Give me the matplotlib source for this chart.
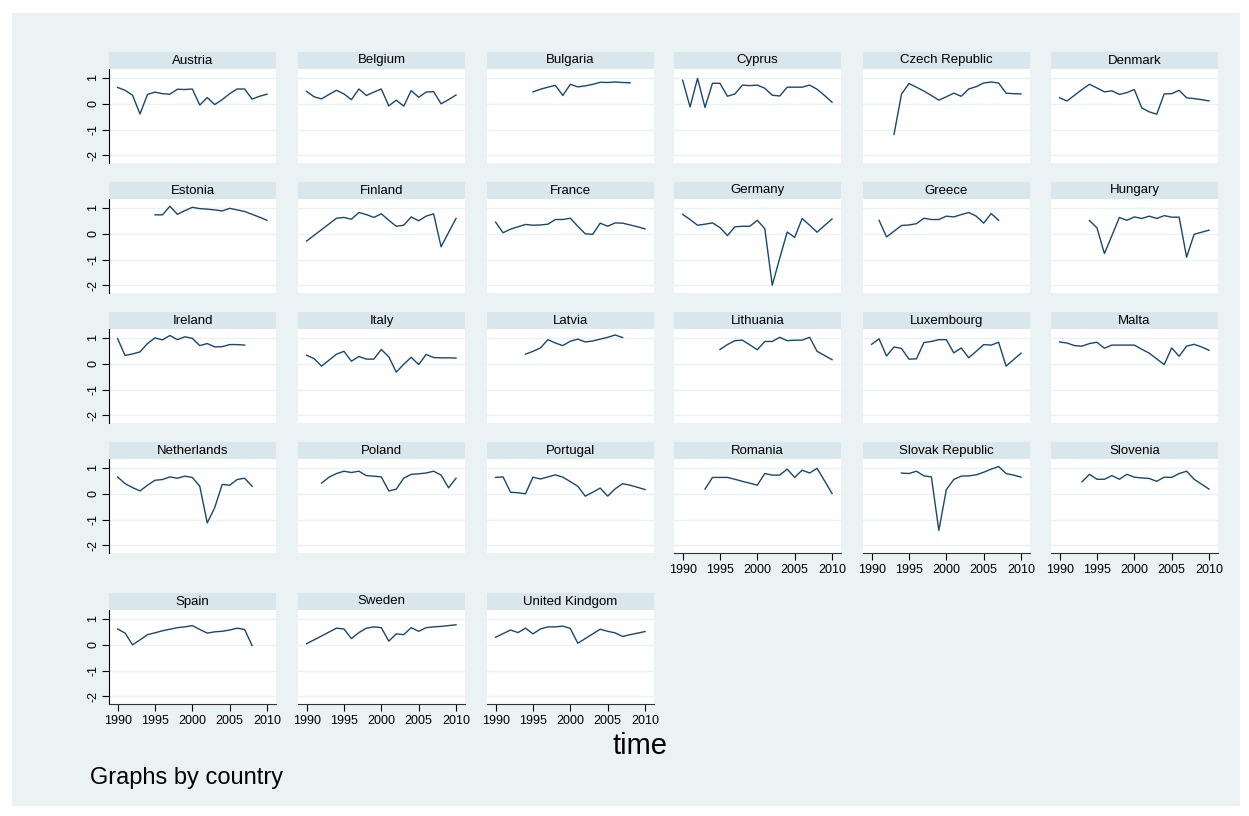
import matplotlib
matplotlib.use("Agg")
import matplotlib.pyplot as plt
from matplotlib.patches import Rectangle

plt.rcParams["font.family"] = ["Liberation Sans", "DejaVu Sans"]

# ---------------------------------------------------------------------------
# Data: one series per country, first_year gives the year of the first value
# ---------------------------------------------------------------------------

countries = [
    "Austria", "Belgium", "Bulgaria", "Cyprus", "Czech Republic", "Denmark",
    "Estonia", "Finland", "France", "Germany", "Greece", "Hungary",
    "Ireland", "Italy", "Latvia", "Lithuania", "Luxembourg", "Malta",
    "Netherlands", "Poland", "Portugal", "Romania", "Slovak Republic", "Slovenia",
    "Spain", "Sweden", "United Kindgom",
]

first_year = [
    1990, 1990, 1995, 1990, 1993, 1990,
    1995, 1990, 1990, 1990, 1991, 1994,
    1990, 1990, 1994, 1995, 1990, 1990,
    1990, 1992, 1990, 1993, 1994, 1993,
    1990, 1990, 1990,
]

austria = [0.62, 0.51, 0.32, -0.40, 0.35, 0.44, 0.38, 0.36, 0.55, 0.54, 0.56,
           -0.06, 0.23, -0.04, 0.15, 0.38, 0.56, 0.56, 0.17, 0.28, 0.36]
belgium = [0.47, 0.26, 0.18, 0.35, 0.51, 0.37, 0.15, 0.56, 0.31, 0.44, 0.56,
           -0.09, 0.13, -0.10, 0.50, 0.24, 0.44, 0.46, -0.01, 0.15, 0.33]
bulgaria = [0.45, 0.55, 0.63, 0.70, 0.31, 0.74, 0.64, 0.68, 0.74, 0.82, 0.81,
            0.83, 0.81, 0.80]
cyprus = [0.90, -0.13, 0.97, -0.15, 0.78, 0.78, 0.28, 0.37, 0.71, 0.69, 0.71,
          0.59, 0.32, 0.29, 0.63, 0.63, 0.63, 0.71, 0.55, 0.31, 0.05]
czech = [-1.19, 0.36, 0.77, 0.63, 0.48, 0.31, 0.13, 0.26, 0.40, 0.28, 0.56,
         0.65, 0.79, 0.83, 0.79, 0.40, 0.38, 0.37]
denmark = [0.22, 0.10, 0.32, 0.54, 0.74, 0.60, 0.45, 0.49, 0.35, 0.42, 0.54,
           -0.17, -0.32, -0.41, 0.37, 0.38, 0.51, 0.22, 0.19, 0.15, 0.10]
estonia = [0.72, 0.72, 1.05, 0.74, 0.88, 1.01, 0.96, 0.94, 0.91, 0.87, 0.97,
           0.91, 0.85, 0.74, 0.63, 0.51]
finland = [-0.29, -0.07, 0.15, 0.37, 0.59, 0.62, 0.55, 0.81, 0.73, 0.62, 0.76,
           0.51, 0.28, 0.32, 0.64, 0.49, 0.67, 0.76, -0.51, 0.04, 0.58]
france = [0.44, 0.03, 0.17, 0.26, 0.35, 0.32, 0.33, 0.36, 0.54, 0.54, 0.59,
          0.28, -0.01, -0.03, 0.40, 0.28, 0.41, 0.40, 0.33, 0.26, 0.18]
germany = [0.74, 0.54, 0.32, 0.36, 0.41, 0.23, -0.08, 0.26, 0.28, 0.28, 0.51,
           0.19, -1.99, -0.95, 0.06, -0.15, 0.58, 0.32, 0.05, 0.31, 0.56]
greece = [0.51, -0.13, 0.09, 0.31, 0.33, 0.38, 0.59, 0.54, 0.54, 0.67, 0.64,
          0.73, 0.81, 0.67, 0.40, 0.77, 0.51]
hungary = [0.50, 0.22, -0.77, -0.08, 0.62, 0.51, 0.64, 0.58, 0.67, 0.58, 0.69,
           0.63, 0.63, -0.91, -0.03, 0.05, 0.13]
ireland = [0.96, 0.31, 0.37, 0.45, 0.77, 0.99, 0.91, 1.08, 0.92, 1.03, 0.97,
           0.69, 0.77, 0.64, 0.65, 0.73, 0.73, 0.71]
italy = [0.32, 0.19, -0.10, 0.13, 0.36, 0.47, 0.09, 0.27, 0.17, 0.17, 0.54,
         0.26, -0.33, -0.03, 0.24, -0.04, 0.35, 0.23, 0.22, 0.22, 0.21]
latvia = [0.36, 0.47, 0.60, 0.92, 0.79, 0.69, 0.86, 0.94, 0.83, 0.87, 0.94,
          1.01, 1.10, 1.00]
lithuania = [0.54, 0.73, 0.88, 0.90, 0.72, 0.53, 0.85, 0.85, 1.01, 0.88, 0.90,
             0.90, 1.01, 0.47, 0.31, 0.15]
luxembourg = [0.74, 0.95, 0.29, 0.64, 0.58, 0.17, 0.18, 0.81, 0.85, 0.92, 0.92,
              0.41, 0.60, 0.22, 0.47, 0.73, 0.71, 0.82, -0.10, 0.15, 0.40]
malta = [0.83, 0.79, 0.69, 0.67, 0.77, 0.82, 0.59, 0.71, 0.71, 0.71, 0.71,
         0.55, 0.40, 0.18, -0.04, 0.60, 0.28, 0.67, 0.74, 0.64, 0.51]
netherlands = [0.64, 0.38, 0.23, 0.10, 0.32, 0.51, 0.54, 0.64, 0.59, 0.67, 0.62,
               0.28, -1.13, -0.54, 0.35, 0.32, 0.54, 0.59, 0.28]
poland = [0.40, 0.63, 0.77, 0.86, 0.81, 0.86, 0.69, 0.67, 0.64, 0.10, 0.17,
          0.59, 0.74, 0.76, 0.79, 0.86, 0.71, 0.22, 0.59]
portugal = [0.62, 0.64, 0.05, 0.03, -0.01, 0.63, 0.56, 0.64, 0.72, 0.63, 0.46,
            0.28, -0.10, 0.05, 0.21, -0.10, 0.18, 0.38, 0.32, 0.24, 0.15]
romania = [0.17, 0.62, 0.62, 0.62, 0.55, 0.47, 0.40, 0.32, 0.77, 0.71, 0.71,
           0.94, 0.62, 0.90, 0.79, 0.97, 0.49, 0.00]
slovakia = [0.79, 0.77, 0.86, 0.68, 0.64, -1.42, 0.15, 0.54, 0.67, 0.68, 0.72,
            0.82, 0.94, 1.04, 0.77, 0.71, 0.63]
slovenia = [0.45, 0.74, 0.55, 0.55, 0.69, 0.55, 0.74, 0.63, 0.60, 0.58, 0.47,
            0.63, 0.62, 0.77, 0.86, 0.55, 0.36, 0.17]
spain = [0.60, 0.44, -0.01, 0.18, 0.38, 0.45, 0.53, 0.59, 0.65, 0.68, 0.73,
         0.58, 0.44, 0.49, 0.51, 0.56, 0.63, 0.58, -0.04]
sweden = [0.03, 0.18, 0.33, 0.48, 0.63, 0.60, 0.23, 0.46, 0.63, 0.68, 0.65,
          0.13, 0.41, 0.38, 0.65, 0.51, 0.65, 0.68, 0.70, 0.73, 0.76]
uk = [0.28, 0.42, 0.56, 0.46, 0.63, 0.41, 0.60, 0.68, 0.68, 0.71, 0.62,
      0.05, 0.23, 0.41, 0.59, 0.51, 0.45, 0.31, 0.38, 0.44, 0.50]

series = [
    austria, belgium, bulgaria, cyprus, czech, denmark,
    estonia, finland, france, germany, greece, hungary,
    ireland, italy, latvia, lithuania, luxembourg, malta,
    netherlands, poland, portugal, romania, slovakia, slovenia,
    spain, sweden, uk,
]

x_ticks = [1990, 1995, 2000, 2005, 2010]
y_ticks = [-2, -1, 0, 1]

# ---------------------------------------------------------------------------
# Layout (pixels) and Stata s2color-like styling
# ---------------------------------------------------------------------------

W, H = 1249, 816
COL_LEFT = [109, 298, 487, 674, 863, 1051]
ROW_TOP = [69, 199, 329, 459, 610]
PANEL_W, PANEL_H, STRIP_H = 167, 94, 17
NCOLS = 6

BG = "#eaf2f3"
STRIP = "#d9e6eb"
LINE = "#1a476f"
GRID = "#eaf2f3"


def fig_box(left, top, width, height):
    return [left / W, 1 - (top + height) / H, width / W, height / H]


fig = plt.figure(figsize=(W / 100, H / 100), dpi=100)
fig.patch.set_facecolor("white")
fig.add_artist(Rectangle((12 / W, 1 - 806 / H), 1228 / W, 793 / H,
                         transform=fig.transFigure, facecolor=BG,
                         edgecolor="none", zorder=0))

n = len(countries)
for i, (name, start, vals) in enumerate(zip(countries, first_year, series)):
    row, col = divmod(i, NCOLS)
    left, top = COL_LEFT[col], ROW_TOP[row]
    bottom_panel = i + NCOLS >= n

    ax = fig.add_axes(fig_box(left, top, PANEL_W, PANEL_H))
    ax.set_facecolor("white")
    for yv in y_ticks:
        ax.axhline(yv, color=GRID, lw=1.0, zorder=1)
    years = list(range(start, start + len(vals)))
    ax.plot(years, vals, color=LINE, lw=1.0, zorder=3)

    ax.set_xlim(1988.85, 2011.2)
    ax.set_ylim(-2.29, 1.33)
    ax.set_xticks(x_ticks)
    ax.set_yticks(y_ticks)
    for side in ("top", "right"):
        ax.spines[side].set_visible(False)
    ax.spines["left"].set_visible(col == 0)
    ax.spines["bottom"].set_visible(bottom_panel)
    ax.spines["left"].set_color("black")
    ax.spines["bottom"].set_color("#333333")

    ax.tick_params(axis="y", direction="out", length=5, width=0.8, pad=2,
                   labelsize=9, left=(col == 0), labelleft=(col == 0))
    ax.tick_params(axis="x", direction="out", length=5, width=0.8, pad=3,
                   labelsize=9, bottom=bottom_panel, labelbottom=bottom_panel)
    if col == 0:
        ax.set_yticklabels([str(v) for v in y_ticks], rotation=90, va="center")

    # title strip above each panel
    fig.add_artist(Rectangle((left / W, 1 - top / H), PANEL_W / W, STRIP_H / H,
                             transform=fig.transFigure, facecolor=STRIP,
                             edgecolor="none"))
    fig.text((left + PANEL_W / 2) / W, 1 - (top - STRIP_H / 2) / H, name,
             ha="center", va="center", fontsize=9.5)

fig.text(640 / W, 1 - 746 / H, "time", ha="center", va="center", fontsize=21)
fig.text(90 / W, 1 - 778 / H, "Graphs by country", ha="left", va="center",
         fontsize=17)

fig.savefig("out.png", dpi=100)
